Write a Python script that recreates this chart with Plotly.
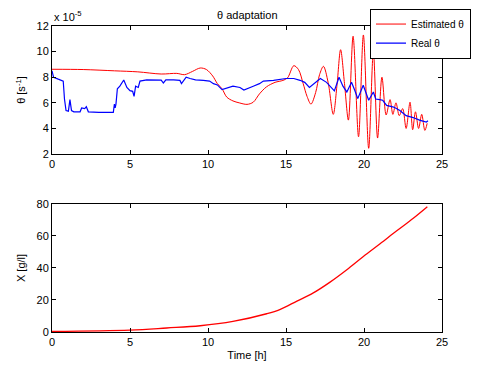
import plotly.graph_objects as go
from plotly.subplots import make_subplots

# Estimated theta (x1e-5)
est_t = [0, 2, 4, 5.5, 7, 8.0, 8.5, 9.0, 9.5, 9.9, 10.3, 10.6, 10.9, 11.2, 11.6, 12.0, 12.5, 12.9, 13.3,
         13.75, 14.3, 14.8, 15.1, 15.5, 15.8, 16.1, 16.35, 16.6, 16.9, 17.15, 17.4, 17.7, 18.03, 18.27,
         18.5, 18.75, 19.0, 19.3, 19.65, 19.96, 20.3, 20.6, 20.87, 21.15, 21.42, 21.67, 21.85, 22.05,
         22.26, 22.48, 22.7, 22.95, 23.12, 23.3, 23.5, 23.7, 23.9, 24.05]
est_v = [8.62, 8.6, 8.5, 8.42, 8.25, 8.3, 8.2, 8.45, 8.72, 8.6, 8.1, 7.5, 7.1, 6.45, 6.15, 6.0, 5.88, 6.05,
         6.7, 7.25, 7.6, 7.75, 7.95, 8.9, 8.6, 7.5, 6.5, 5.9, 6.8, 8.2, 8.85, 7.6, 5.1, 7.4, 10.15, 7.5,
         4.65, 11.2, 3.35, 11.3, 2.45, 10.0, 3.25, 8.0, 5.05, 6.25, 5.1, 6.0, 5.0, 5.55, 4.0, 6.05, 3.9,
         5.3, 4.0, 5.1, 3.85, 4.4]

# Real theta (x1e-5)
real_t = [0, 0.1, 0.4, 0.72, 0.8, 0.9, 1.05, 1.15, 1.25, 1.4, 1.8, 1.9, 2.1, 2.2, 2.33, 3.0, 3.93, 4.0,
          4.05, 4.1, 4.19, 4.35, 4.6, 4.8, 5.0, 5.17, 5.26, 5.36, 5.53, 5.64, 6.07, 6.5, 7.0, 7.14, 7.3,
          7.8, 8.2, 8.3, 8.6, 8.85, 9.2, 9.7, 10.1, 10.35, 10.6, 10.9, 11.2, 11.6, 12.05, 12.3, 12.9,
          13.3, 13.55, 14.2, 15.0, 15.5, 15.9, 16.2, 16.5, 16.8, 17.2, 17.6, 17.85, 18.1, 18.4, 18.65,
          18.9, 19.2, 19.4, 19.6, 19.95, 20.1, 20.3, 20.6, 20.75, 21.0, 21.2, 21.45, 21.9, 22.3, 22.7,
          23.15, 23.6, 24.0, 24.1]
real_v = [8.5, 8.0, 7.85, 7.7, 6.3, 5.4, 5.35, 6.25, 5.4, 5.3, 5.3, 5.6, 5.55, 5.7, 5.3, 5.25, 5.25, 5.9,
          5.6, 5.9, 7.1, 7.3, 7.78, 7.2, 6.95, 6.9, 6.5, 7.3, 7.2, 7.7, 7.8, 7.8, 7.78, 7.55, 7.8, 7.8,
          7.75, 7.5, 8.0, 7.9, 7.8, 7.75, 7.7, 7.5, 7.4, 7.03, 7.15, 7.3, 7.2, 7.0, 7.3, 7.5, 7.7, 7.76,
          7.9, 7.9, 7.76, 7.6, 7.2, 7.5, 7.9, 7.6, 7.3, 6.93, 8.0, 7.3, 6.85, 7.6, 7.0, 6.33, 7.37, 6.8,
          6.2, 6.85, 6.3, 6.25, 6.2, 5.8, 5.67, 5.4, 5.0, 4.85, 4.63, 4.5, 4.6]

# Biomass X [g/l]
bio_t = [0, 5, 7.35, 9.5, 11.6, 13.76, 14.6, 15.7, 16.75, 17.8, 18.9, 19.96, 21.03, 22.1, 23.16, 24.06]
bio_v = [0.4, 1.2, 2.5, 3.9, 6.6, 11.4, 14.0, 19.3, 24.4, 31.0, 38.9, 47.2, 55.1, 63.2, 71.0, 78.2]

theta_ticks = [2, 4, 6, 8, 10, 12]
x_ticks = [0, 5, 10, 15, 20, 25]
bio_ticks = [0, 20, 40, 60, 80]

FONT = "Liberation Sans, Arial, sans-serif"

fig = make_subplots(rows=2, cols=1, vertical_spacing=0.163)
fig.add_trace(go.Scatter(x=est_t, y=est_v, mode="lines", name="Estimated θ",
                         line=dict(color="#ff0000", width=1, shape="spline", smoothing=0.9)), row=1, col=1)
fig.add_trace(go.Scatter(x=real_t, y=real_v, mode="lines", name="Real θ",
                         line=dict(color="#0000ff", width=1.2)), row=1, col=1)
fig.add_trace(go.Scatter(x=bio_t, y=bio_v, mode="lines", showlegend=False,
                         line=dict(color="#ff0000", width=1.3, shape="spline")), row=2, col=1)

ax = dict(showline=True, linecolor="black", linewidth=1, mirror="ticks", ticks="inside",
          ticklen=4, tickcolor="black", showgrid=False, zeroline=False,
          tickfont=dict(size=11, color="black", family=FONT))
fig.update_xaxes(range=[0, 25], tickvals=x_ticks, **ax)
fig.update_yaxes(row=1, col=1, range=[2, 12], tickvals=theta_ticks,
                 title=dict(text="θ [s<sup>-1</sup>]", font=dict(size=11, family=FONT, color="black"), standoff=8))
fig.update_yaxes(row=2, col=1, range=[0, 80], tickvals=bio_ticks,
                 title=dict(text="X [g/l]", font=dict(size=11, family=FONT, color="black"), standoff=8))
fig.update_yaxes(**ax)
fig.update_xaxes(row=2, col=1, title=dict(text="Time [h]", font=dict(size=11, family=FONT, color="black"), standoff=4))

# page body has an 8px margin: figure is shifted by (8, 8), so shrink it and margins accordingly
fig.update_layout(
    width=472, height=359,
    margin=dict(l=44, r=38, t=18, b=35, autoexpand=False),
    paper_bgcolor="white", plot_bgcolor="white",
    font=dict(family=FONT, size=11, color="black"),
    showlegend=True,
    legend=dict(x=0.8154, y=1.057, xanchor="left", yanchor="top", bordercolor="black", borderwidth=1,
                bgcolor="white", font=dict(size=10, family=FONT, color="black"),
                tracegroupgap=0, itemwidth=30),
    annotations=[
        dict(text="θ adaptation", x=0.5, y=1.0, xref="paper", yref="paper", xanchor="center",
             yanchor="bottom", yshift=3, showarrow=False, font=dict(size=11, family=FONT, color="black")),
        dict(text="x 10<sup>-5</sup>", x=0, y=1.0, xref="paper", yref="paper", xanchor="left",
             yanchor="bottom", yshift=1, showarrow=False, font=dict(size=11, family=FONT, color="black")),
    ],
)

fig.write_html("out.html")
